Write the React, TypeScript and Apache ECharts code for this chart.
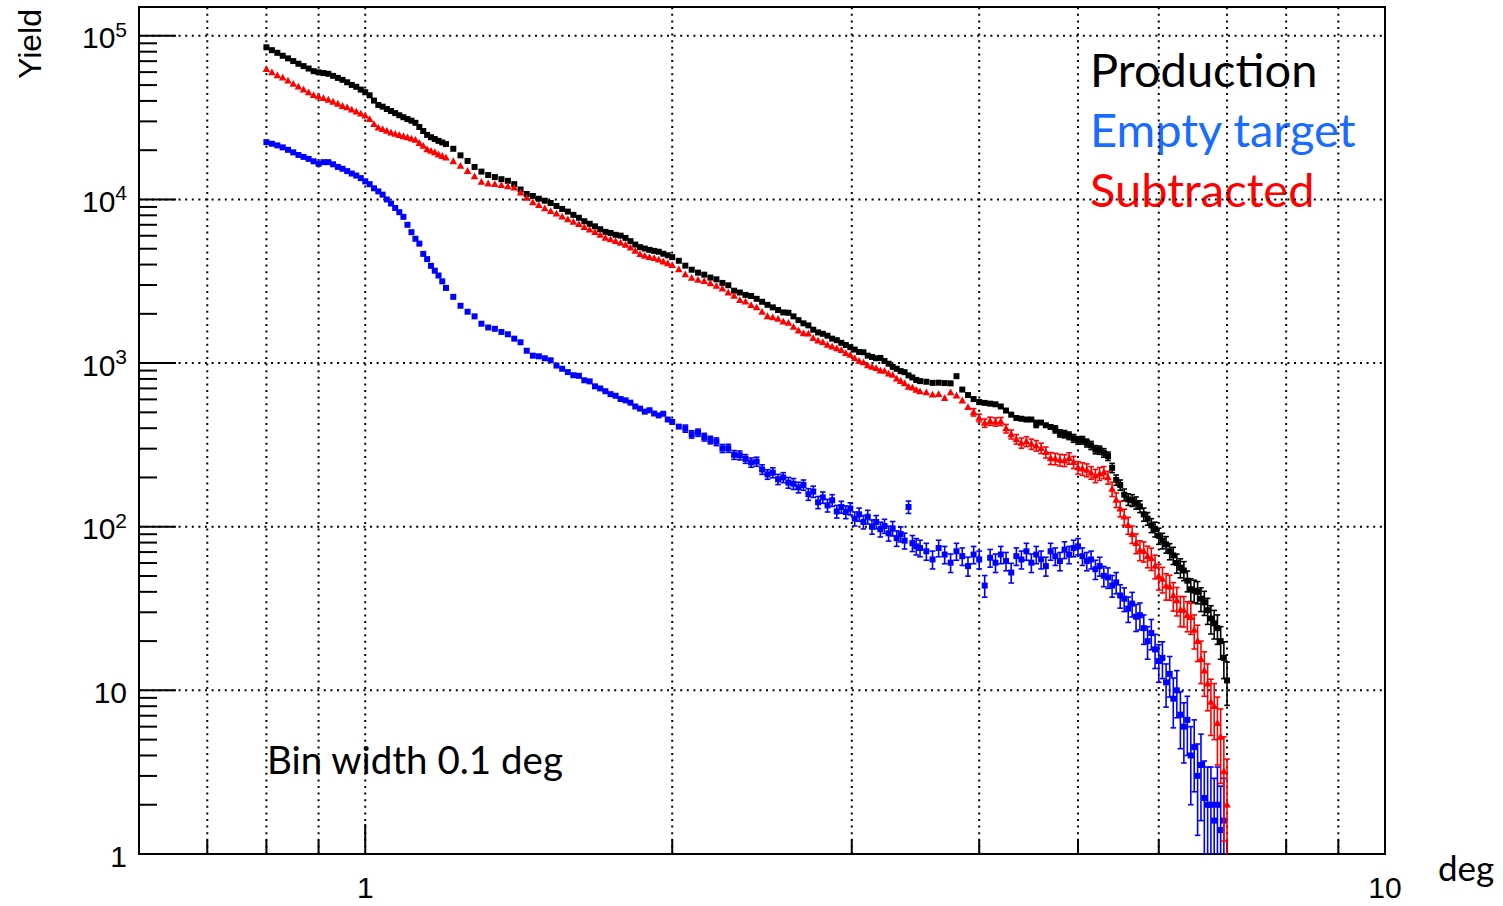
import React, { useEffect, useRef } from "react";
import * as echarts from "echarts";

const xBins = [
  0.80, 0.81, 0.82, 0.83, 0.84, 0.85, 0.86, 0.87, 0.88, 0.89, 0.90, 0.91, 0.92, 0.93, 0.94, 0.95, 0.96, 0.97, 0.98, 0.99,
  1.00, 1.01, 1.02, 1.03, 1.04, 1.05, 1.06, 1.07, 1.08, 1.09, 1.10, 1.11, 1.12, 1.13, 1.14, 1.15, 1.16, 1.17, 1.18, 1.19, 1.20,
  1.22, 1.24, 1.26, 1.28, 1.30, 1.32, 1.34, 1.36, 1.38, 1.40, 1.42, 1.44, 1.46, 1.48, 1.50, 1.52, 1.54, 1.56, 1.58, 1.60,
  1.62, 1.64, 1.66, 1.68, 1.70, 1.72, 1.74, 1.76, 1.78, 1.80, 1.82, 1.84, 1.86, 1.88, 1.90, 1.92, 1.94, 1.96, 1.98, 2.00,
  2.03, 2.06, 2.09, 2.12, 2.15, 2.18, 2.21, 2.24, 2.27, 2.30, 2.33, 2.36, 2.39, 2.42, 2.45, 2.48, 2.51, 2.54, 2.57, 2.60,
  2.63, 2.66, 2.69, 2.72, 2.75, 2.78, 2.81, 2.84, 2.87, 2.90, 2.93, 2.96, 2.99, 3.02, 3.05, 3.08, 3.11, 3.14, 3.17, 3.20,
  3.23, 3.26, 3.29, 3.32, 3.35, 3.38, 3.41, 3.44, 3.47, 3.50,
  3.55, 3.60, 3.65, 3.70, 3.75, 3.80, 3.85, 3.90, 3.95, 4.00, 4.05, 4.10, 4.15, 4.20, 4.25, 4.30, 4.35, 4.40, 4.45, 4.50,
  4.55, 4.60, 4.65, 4.70, 4.75, 4.80, 4.85, 4.90, 4.95, 5.00, 5.05, 5.10, 5.15, 5.20, 5.25, 5.30, 5.35, 5.40, 5.45, 5.50,
  5.55, 5.60, 5.65, 5.70, 5.75, 5.80, 5.85, 5.90, 5.95, 6.00, 6.05, 6.10, 6.15, 6.20, 6.25, 6.30, 6.35, 6.40, 6.45, 6.50,
  6.55, 6.60, 6.65, 6.70, 6.75, 6.80, 6.85, 6.90, 6.95, 7.00,
];

// Production (black)
const productionYield = [
  85100, 81700, 78700, 75500, 72800, 70100, 67500, 65300, 63100, 60800, 59800, 59200, 58600, 56900, 55300, 53800, 52000, 50100, 48800, 46900,
  45200, 43300, 40200, 37800, 36900, 35700, 34700, 33700, 32700, 31800, 31000, 30300, 29400, 27700, 26200, 24800, 24000, 23400, 22800, 22300, 21800,
  20400, 18600, 17200, 15800, 14800, 14100, 13700, 13300, 13000, 12400, 11500, 10800, 10500, 10100, 9820, 9510, 9120, 8750, 8430, 8050,
  7730, 7360, 7100, 6850, 6580, 6340, 6240, 6080, 6010, 5820, 5560, 5300, 5110, 5010, 4920, 4850, 4790, 4660, 4560, 4440,
  4220, 3940, 3720, 3570, 3470, 3330, 3250, 3090, 2990, 2770, 2700, 2610, 2570, 2470, 2370, 2270, 2190, 2110, 2040, 2030,
  1930, 1830, 1750, 1700, 1600, 1540, 1510, 1470, 1410, 1380, 1330, 1290, 1250, 1210, 1170, 1165, 1110, 1090, 1070, 1075,
  1030, 991, 948, 923, 893, 880, 841, 817, 789, 776,
  769, 757, 759, 755, 752, 832, 689, 638, 603, 578, 571, 565, 560, 543, 513, 484, 462, 457, 452, 452,
  425, 433, 417, 407, 394, 372, 368, 360, 347, 337, 338, 325, 314, 296, 294, 283, 270, 229, 193, 180,
  157, 147, 145, 140, 133, 119, 112, 102, 96.6, 88, 82.2, 78, 70.8, 66.8, 60, 56.2, 54, 46.8, 41.5, 40.7,
  40, 36.3, 34.5, 30.9, 27.5, 25.7, 24.0, 20.0, 15.8, 11.5,
];
const productionErr = [
  292, 286, 281, 275, 270, 265, 260, 256, 251, 247, 245, 243, 242, 239, 235, 232, 228, 224, 221, 217,
  213, 208, 200, 194, 192, 189, 186, 184, 181, 178, 176, 174, 171, 166, 162, 157, 155, 153, 151, 149, 148,
  143, 136, 131, 126, 122, 119, 117, 115, 114, 111, 107, 104, 102, 100, 99, 98, 95, 94, 92, 90,
  88, 86, 84, 83, 81, 80, 79, 78, 77, 76, 75, 73, 71, 71, 70, 70, 69, 68, 68, 67,
  65, 63, 61, 60, 59, 58, 57, 56, 54, 53, 52, 51, 51, 50, 49, 48, 47, 46, 45, 45,
  44, 43, 42, 41, 40, 39, 39, 38, 38, 37, 36, 36, 35, 35, 34, 34, 33, 33, 33, 33,
  32, 31, 31, 30, 30, 30, 29, 29, 28, 28,
  28, 28, 28, 27, 27, 29, 26, 25, 25, 24, 24, 24, 24, 23, 23, 22, 21, 21, 21, 21,
  21, 21, 20, 20, 20, 19, 19, 19, 19, 18, 18, 18, 18, 17, 17, 17, 16, 15, 14, 13,
  13, 12, 12, 12, 11, 11, 10, 10, 10, 10, 9, 9, 8, 8, 8, 7.5, 7.2, 6.8, 6.6, 6.4,
  6.2, 6, 5.8, 5.6, 5.4, 5.1, 4.9, 4.5, 4, 3.4,
];

// Empty target (blue)
const emptyYield = [
  22400, 21900, 21400, 20800, 20100, 19400, 18700, 18200, 17700, 17100, 16500, 16900, 16900, 16400, 15800, 15400, 14900, 14400, 14000, 13500,
  12900, 12400, 11700, 11200, 10700, 10000, 9440, 8870, 8360, 7830, 7000, 6310, 5750, 5370, 4650, 4320, 3930, 3670, 3430, 3160, 2880,
  2540, 2240, 2060, 1930, 1740, 1650, 1620, 1550, 1500, 1410, 1340, 1190, 1110, 1100, 1070, 1040, 966, 923, 881, 843,
  836, 785, 773, 721, 700, 673, 646, 631, 603, 592, 573, 543, 527, 505, 515, 492, 479, 490, 452, 437,
  409, 398, 367, 376, 353, 339, 331, 301, 302, 275, 273, 260, 247, 250, 224, 209, 214, 195, 200, 186,
  183, 174, 180, 158, 164, 141, 151, 135, 145, 124, 132, 123, 129, 112, 119, 107, 115, 100, 107, 96.6,
  101, 91.2, 97.7, 85.1, 90.2, 82.2, 132, 79.4, 75.9, 74.1,
  70.8, 63.1, 74.1, 67.6, 60.3, 70.8, 66.1, 57.5, 67.6, 63.1, 43.7, 64.6, 60.3, 67.6, 61.7, 52.5, 66.1, 63.1, 70.8, 60.3,
  67.6, 63.1, 57.5, 70.8, 66.1, 61.7, 72.4, 67.6, 74.1, 75.9, 66.1, 61.7, 63.1, 55.0, 57.5, 50.1, 49.0, 43.7, 45.7, 38.0,
  36.3, 31.6, 33.9, 28.2, 28.8, 24.0, 20.0, 22.4, 17.8, 15.1, 15.8, 11.2, 12.6, 8.9, 10.0, 7.1, 6.0, 6.6, 4.0, 4.5,
  3.0, 3.5, 2.2, 2.0, 2.0, 1.6, 2.0, 1.4, 1.6, null,
];
const emptyErr = [
  150, 148, 146, 144, 142, 139, 137, 135, 133, 131, 128, 130, 130, 128, 126, 124, 122, 120, 118, 116,
  114, 111, 108, 106, 103, 100, 97, 94, 91, 88, 84, 79, 76, 73, 68, 66, 63, 61, 59, 56, 54,
  50, 47, 45, 44, 42, 41, 40, 39, 39, 38, 37, 34, 33, 33, 33, 32, 31, 30, 30, 29,
  29, 28, 28, 27, 26, 26, 25, 25, 25, 24, 24, 23, 23, 22, 23, 22, 22, 22, 21, 21,
  20, 20, 19, 19, 19, 18, 18, 17, 17, 17, 17, 16, 16, 16, 15, 14, 15, 14, 14, 14,
  14, 13, 13, 13, 13, 12, 12, 12, 12, 11, 11, 11, 11, 11, 11, 10, 11, 10, 10, 10,
  10, 9.5, 9.9, 9.2, 9.5, 9.1, 11.5, 8.9, 8.7, 8.6,
  8.4, 7.9, 8.6, 8.2, 7.8, 8.4, 8.1, 7.6, 8.2, 7.9, 6.6, 8.0, 7.8, 8.2, 7.9, 7.2, 8.1, 7.9, 8.4, 7.8,
  8.2, 7.9, 7.6, 8.4, 8.1, 7.9, 8.5, 8.2, 8.6, 8.7, 8.1, 7.9, 7.9, 7.4, 7.6, 7.1, 7.0, 6.6, 6.8, 6.2,
  6.0, 5.6, 5.8, 5.3, 5.4, 4.9, 4.5, 4.7, 4.2, 3.9, 4.0, 3.3, 3.5, 3.0, 3.2, 2.7, 2.4, 2.6, 2.0, 2.1,
  1.7, 1.9, 1.5, 1.4, 1.4, 1.3, 1.4, 1.2, 1.3, null,
];

// Subtracted (red)
const subtractedYield = [
  62500, 59700, 57300, 55500, 53200, 50800, 48800, 46900, 45100, 43400, 42500, 41500, 40600, 39500, 38400, 37200, 36500, 35300, 34400, 33400,
  32500, 30900, 28800, 27400, 26900, 26200, 25600, 25100, 24700, 24300, 23900, 23500, 23100, 22100, 21200, 20200, 19800, 19400, 18800, 18400, 18000,
  17100, 16000, 14900, 13800, 12800, 12500, 12400, 12200, 12000, 11800, 11000, 10200, 9590, 9230, 8810, 8470, 8170, 7850, 7550, 7280,
  7050, 6760, 6530, 6310, 6070, 5820, 5690, 5560, 5430, 5280, 5070, 4840, 4630, 4520, 4430, 4370, 4280, 4170, 4070, 3960,
  3730, 3480, 3310, 3220, 3160, 3070, 2960, 2850, 2690, 2570, 2420, 2370, 2260, 2190, 2050, 1930, 1900, 1860, 1790, 1760,
  1660, 1580, 1520, 1510, 1420, 1370, 1340, 1290, 1260, 1230, 1200, 1150, 1120, 1070, 1030, 1010, 968, 946, 929, 900,
  895, 861, 845, 802, 776, 752, 715, 708, 685, 670,
  661, 640, 646, 610, 662, 631, 590, 537, 501, 462, 430, 442, 437, 440, 398, 367, 343, 325, 332, 320,
  313, 302, 285, 262, 260, 256, 254, 262, 248, 230, 226, 222, 214, 205, 211, 215, 200, 170, 146, 129,
  115, 102, 90, 79.4, 72, 70.8, 66.1, 64, 57.5, 50, 47.9, 43.6, 43, 38.0, 35.5, 31, 30.9, 28.8, 28, 23.4,
  20.0, 15.5, 13.2, 11, 8.5, 8, 6.3, 5.2, 3.2, 2.0,
];
const subtractedErr = [
  328, 322, 316, 310, 305, 299, 294, 289, 284, 279, 276, 276, 275, 271, 267, 263, 259, 254, 251, 246,
  241, 236, 228, 221, 218, 214, 210, 206, 203, 199, 195, 191, 187, 182, 176, 171, 167, 165, 162, 160, 157,
  151, 144, 139, 133, 129, 125, 124, 122, 120, 118, 113, 110, 108, 106, 104, 103, 100, 98, 96, 94,
  93, 90, 89, 87, 85, 84, 83, 82, 81, 80, 78, 76, 75, 74, 74, 73, 73, 72, 71, 70,
  68, 66, 64, 63, 62, 61, 60, 58, 57, 55, 55, 54, 53, 52, 51, 50, 49, 48, 47, 47,
  46, 45, 44, 43, 42, 41, 41, 40, 40, 39, 38, 38, 37, 36, 36, 35, 35, 34, 34, 34,
  34, 33, 32, 32, 31, 31, 31, 30, 29, 29,
  29, 29, 29, 29, 28, 28, 27, 26, 26, 25, 25, 25, 25, 25, 24, 23, 23, 23, 23, 23,
  23, 22, 22, 22, 21, 21, 21, 21, 21, 20, 20, 20, 19, 19, 19, 18, 18, 17, 15, 14,
  13, 12, 11, 11, 10, 10, 10, 10, 9.5, 9, 8.5, 8, 7.5, 7.5, 7, 6.5, 6.5, 6, 6, 5.5,
  5, 4.5, 4, 3.5, 3.2, 3, 2.8, 2.5, 2, 1.8,
];

// Axis / grid positions
const X_MIN = 0.6;
const X_MAX = 10;
const Y_MIN = 1;
const Y_MAX = 1.5e5;
const xGridValues = [0.7, 0.8, 0.9, 1, 2, 3, 4, 5, 6, 7, 8, 9];
const xMajorValues = [1];
const yDecades = [1, 10, 100, 1000, 10000, 100000];
const yMinorMultipliers = [2, 3, 4, 5, 6, 7, 8, 9];

const legendItems = [
  { text: "Production", color: "#000000" },
  { text: "Empty target", color: "#1a6cff" },
  { text: "Subtracted", color: "#ff0000" },
];

const HUMANIST = "Lato, 'Open Sans', sans-serif";
const HELV = "'Liberation Sans', Arial, Helvetica, sans-serif";

function buildData(ys: (number | null)[], es: (number | null)[]) {
  const out: number[][] = [];
  for (let i = 0; i < xBins.length; i++) {
    const y = ys[i];
    if (y == null) continue;
    out.push([xBins[i], y, es[i] ?? 0]);
  }
  return out;
}

function seg(x1: number, y1: number, x2: number, y2: number, color: string, w: number, dash?: number[]) {
  return {
    type: "line",
    shape: { x1, y1, x2, y2 },
    style: { stroke: color, lineWidth: w, lineDash: dash || null },
  };
}

function markerSeries(name: string, ys: any[], es: any[], color: string, shape: "square" | "triangle", z: number) {
  return {
    type: "custom",
    name,
    coordinateSystem: "cartesian2d",
    clip: true,
    silent: true,
    z,
    encode: { x: 0, y: 1 },
    data: buildData(ys, es),
    renderItem: (params: any, api: any) => {
      const x = api.value(0);
      const y = api.value(1);
      const e = api.value(2);
      const p = api.coord([x, y]);
      const hi = api.coord([x, y + e]);
      const lo = api.coord([x, Math.max(y - e, 0.2)]);
      const children: any[] = [];
      if (lo[1] - hi[1] > 7) {
        children.push(seg(p[0], hi[1], p[0], lo[1], color, 1.6));
        children.push(seg(p[0] - 2.8, hi[1], p[0] + 2.8, hi[1], color, 1.6));
        children.push(seg(p[0] - 2.8, lo[1], p[0] + 2.8, lo[1], color, 1.6));
      }
      if (shape === "square") {
        children.push({
          type: "rect",
          shape: { x: p[0] - 3, y: p[1] - 3, width: 6, height: 6 },
          style: { fill: color },
        });
      } else {
        children.push({
          type: "polygon",
          shape: { points: [[p[0], p[1] - 4], [p[0] - 3.8, p[1] + 2.8], [p[0] + 3.8, p[1] + 2.8]] },
          style: { fill: color },
        });
      }
      return { type: "group", children };
    },
  };
}

function frameSeries() {
  return {
    type: "custom",
    coordinateSystem: "cartesian2d",
    silent: true,
    z: 1,
    encode: { x: 0, y: 1 },
    data: [[1, 1]],
    renderItem: (params: any, api: any) => {
      const bl = api.coord([X_MIN, Y_MIN]);
      const tr = api.coord([X_MAX, Y_MAX]);
      const left = bl[0];
      const bottom = bl[1];
      const right = tr[0];
      const top = tr[1];
      const children: any[] = [];
      const dash = [2, 4.6];
      for (const xv of xGridValues) {
        const px = api.coord([xv, Y_MIN])[0];
        children.push(seg(px, bottom, px, top, "#000", 2, dash));
        const len = xMajorValues.indexOf(xv) >= 0 ? 30 : 14;
        children.push(seg(px, bottom, px, bottom - len, "#000", 2));
      }
      for (const d of yDecades) {
        const py = api.coord([X_MIN, d])[1];
        if (d > Y_MIN) children.push(seg(left, py, right, py, "#000", 2, dash));
        children.push(seg(left, py, left + 37, py, "#000", 2));
        for (const m of yMinorMultipliers) {
          const v = d * m;
          if (v > Y_MAX) continue;
          const pm = api.coord([X_MIN, v])[1];
          children.push(seg(left, pm, left + 18, pm, "#000", 2));
        }
      }
      return { type: "group", children };
    },
  };
}

function isPow10(v: number) {
  const l = Math.log10(v);
  return Math.abs(l - Math.round(l)) < 1e-6;
}

export default function App() {
  const ref = useRef<HTMLDivElement>(null);
  useEffect(() => {
    if (!ref.current) return;
    const chart = echarts.init(ref.current, null, { renderer: "svg" });
    const option: any = {
      animation: false,
      backgroundColor: "#ffffff",
      grid: {
        left: 139,
        right: 118,
        top: 7,
        bottom: 52,
        show: true,
        borderColor: "#000",
        borderWidth: 2,
        backgroundColor: "transparent",
      },
      xAxis: {
        type: "log",
        logBase: 10,
        min: X_MIN,
        max: X_MAX,
        axisLine: { show: false },
        axisTick: { show: false },
        splitLine: { show: false },
        minorSplitLine: { show: false },
        axisLabel: {
          color: "#000",
          fontFamily: HELV,
          fontSize: 30,
          margin: 18,
          formatter: (v: number) => (isPow10(v) ? String(Math.round(v)) : ""),
        },
      },
      yAxis: {
        type: "log",
        logBase: 10,
        min: Y_MIN,
        max: Y_MAX,
        axisLine: { show: false },
        axisTick: { show: false },
        splitLine: { show: false },
        axisLabel: {
          color: "#000",
          fontFamily: HELV,
          fontSize: 30,
          margin: 12,
          formatter: (v: number) => {
            if (!isPow10(v)) return "";
            const n = Math.round(Math.log10(v));
            if (n === 0) return "{b|1}";
            if (n === 1) return "{b|10}";
            return "{b|10}{s|" + n + "}";
          },
          rich: {
            b: { fontFamily: HELV, fontSize: 30, lineHeight: 34, verticalAlign: "bottom", color: "#000" },
            s: { fontFamily: HELV, fontSize: 21, lineHeight: 21, verticalAlign: "top", color: "#000" },
          },
        },
      },
      graphic: [
        {
          type: "text",
          x: 30,
          y: 44,
          rotation: Math.PI / 2,
          style: { text: "Yield", fill: "#000", fontFamily: HELV, fontSize: 32, align: "center", verticalAlign: "middle" },
        },
        {
          type: "text",
          x: 1438,
          y: 867,
          style: { text: "deg", fill: "#000", fontFamily: HUMANIST, fontSize: 35, align: "left", verticalAlign: "middle" },
        },
        {
          type: "text",
          x: 267,
          y: 759,
          style: { text: "Bin width 0.1 deg", fill: "#000", fontFamily: HUMANIST, fontSize: 38.5, align: "left", verticalAlign: "middle" },
        },
        ...legendItems.map((it, i) => ({
          type: "text",
          x: 1090,
          y: 69 + i * 60,
          style: { text: it.text, fill: it.color, fontFamily: HUMANIST, fontSize: 47, align: "left", verticalAlign: "middle" },
        })),
      ],
      series: [
        frameSeries(),
        markerSeries("Empty target", emptyYield, emptyErr, "#0000ff", "square", 3),
        markerSeries("Production", productionYield, productionErr, "#000000", "square", 4),
        markerSeries("Subtracted", subtractedYield, subtractedErr, "#ff0000", "triangle", 5),
      ],
    };
    chart.setOption(option);
    return () => {
      chart.dispose();
    };
  }, []);
  return (
    <div
      ref={ref}
      style={{ position: "absolute", left: 0, top: 0, width: 1503, height: 906, background: "#fff" }}
    />
  );
}
